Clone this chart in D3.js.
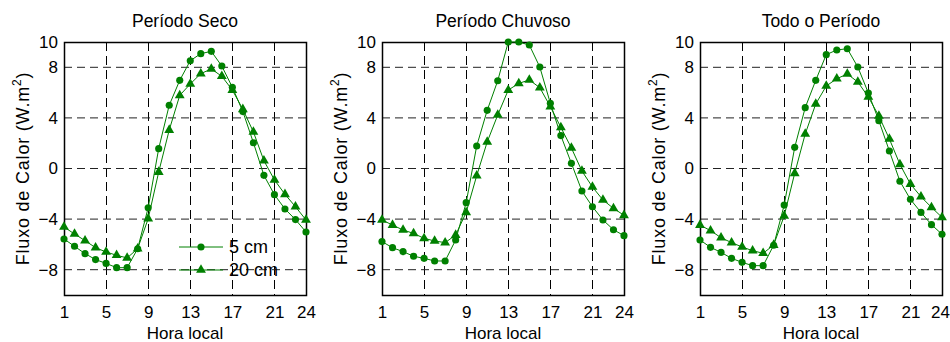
<!DOCTYPE html>
<html>
<head>
<meta charset="utf-8">
<script src="https://cdn.jsdelivr.net/npm/d3@7"></script>
<style>
  body { margin: 0; background: #fff; }
  svg { font-family: "Liberation Sans", Arial, sans-serif; }
</style>
</head>
<body>
<div id="chart"></div>
<script>
// horas do dia
const horas = d3.range(1, 25);

const seco5 = [-5.57, -6.15, -6.73, -7.2, -7.5, -7.84, -7.84, -6.34, -3.1, 1.57, 5.0, 6.97,
  8.52, 9.08, 9.26, 8.1, 6.42, 4.5, 2.04, -0.54, -2.07, -3.2, -4.04, -5.02];
const seco20 = [-4.62, -5.18, -5.7, -6.26, -6.6, -6.86, -7.07, -6.34, -3.97, -0.28, 3.04, 5.78,
  6.68, 7.5, 7.87, 7.29, 6.2, 4.68, 2.89, 0.62, -0.9, -2.04, -3.02, -4.07];
const chuvoso5 = [-5.78, -6.26, -6.57, -6.94, -7.1, -7.31, -7.31, -5.65, -2.7, 1.78, 4.6, 6.94,
  10.0, 10.0, 9.76, 8.02, 5.15, 2.6, 0.41, -1.78, -3.02, -4.07, -4.84, -5.31];
const chuvoso20 = [-4.07, -4.47, -4.86, -5.13, -5.52, -5.73, -5.86, -5.26, -3.47, -0.57, 2.1, 4.23,
  6.2, 6.73, 7.0, 6.39, 4.89, 3.25, 1.62, -0.2, -1.46, -2.49, -3.15, -3.7];
const todo5 = [-5.65, -6.23, -6.63, -7.1, -7.42, -7.68, -7.68, -6.07, -2.89, 1.67, 4.81, 6.97,
  9.0, 9.37, 9.47, 8.02, 5.97, 3.78, 1.38, -1.01, -2.44, -3.47, -4.44, -5.2];
const todo20 = [-4.47, -4.91, -5.47, -5.86, -6.2, -6.5, -6.7, -6.05, -3.75, -0.38, 2.73, 5.1,
  6.52, 7.1, 7.47, 6.84, 5.65, 4.15, 2.33, 0.33, -1.23, -2.23, -3.07, -3.86];

const titulos = ['Período Seco', 'Período Chuvoso', 'Todo o Período'];
const series = [[seco5, seco20], [chuvoso5, chuvoso20], [todo5, todo20]];
const legenda = ['5 cm', '20 cm'];
const xTicks = [1, 5, 9, 13, 17, 21, 24];
const yTicks = [-8, -4, 0, 4, 8, 10];
const yGrid = [-8, -4, 0, 4, 8];
const xGrid = [5, 9, 13, 17, 21];

const W = 950, H = 342;
const verde = '#008000';
const lefts = [64, 382, 700];
const pw = 242, plotTop = 42, plotBottom = 295;
const fonte = '"Liberation Sans", Arial, sans-serif';

const svg = d3.select('#chart').append('svg')
  .attr('width', W)
  .attr('height', H);

const y = d3.scaleLinear().domain([-10, 10]).range([plotBottom, plotTop]);

titulos.forEach((titulo, i) => {
  const x = d3.scaleLinear().domain([1, 24]).range([lefts[i], lefts[i] + pw]);
  const g = svg.append('g');

  // grade tracejada
  g.selectAll('.gx').data(xGrid).enter().append('line')
    .attr('x1', d => Math.round(x(d)) + 0.5).attr('x2', d => Math.round(x(d)) + 0.5)
    .attr('y1', plotTop).attr('y2', plotBottom)
    .attr('stroke', '#000').attr('stroke-dasharray', '9,5');
  g.selectAll('.gy').data(yGrid).enter().append('line')
    .attr('x1', x(1)).attr('x2', x(24))
    .attr('y1', d => y(d)).attr('y2', d => y(d))
    .attr('stroke', '#222').attr('stroke-dasharray', '8,5');

  // caixa
  g.append('rect')
    .attr('x', Math.round(x(1)) + 0.5).attr('y', plotTop + 0.5)
    .attr('width', pw).attr('height', plotBottom - plotTop)
    .attr('fill', 'none').attr('stroke', '#000').attr('stroke-width', 1.5);

  // rótulos dos eixos
  const xl = g.append('g')
    .attr('transform', 'translate(0,' + plotBottom + ')')
    .call(d3.axisBottom(x).tickValues(xTicks).tickSize(0).tickPadding(11).tickFormat(d3.format('d')))
    .call(a => a.select('.domain').remove());
  xl.selectAll('text').attr('font-size', 17).attr('fill', '#000').attr('font-family', fonte);
  // último rótulo do último painel encosta na borda
  if (i === titulos.length - 1) {
    xl.selectAll('text').filter(d => d === 24).attr('dx', -2);
  }

  g.append('g')
    .attr('transform', 'translate(' + x(1) + ',0)')
    .call(d3.axisLeft(y).tickValues(yTicks).tickSize(0).tickPadding(6).tickFormat(d3.format('d')))
    .call(a => a.select('.domain').remove())
    .selectAll('text').attr('font-size', 17).attr('fill', '#000').attr('font-family', fonte);

  g.append('text')
    .attr('x', (x(1) + x(24)) / 2).attr('y', 27)
    .attr('text-anchor', 'middle').attr('font-size', 17.5)
    .text(titulo);

  g.append('text')
    .attr('x', (x(1) + x(24)) / 2).attr('y', 339)
    .attr('text-anchor', 'middle').attr('font-size', 17)
    .text('Hora local');

  const yl = g.append('text')
    .attr('transform', 'translate(' + (x(1) - 35) + ',' + ((plotTop + plotBottom) / 2) + ') rotate(-90)')
    .attr('text-anchor', 'middle').attr('font-size', 18).attr('letter-spacing', 0.8);
  yl.append('tspan').text('Fluxo de Calor (W.m');
  yl.append('tspan').attr('font-size', 12).attr('dy', -8).text('2');
  yl.append('tspan').attr('dy', 8).text(')');

  const line = d3.line().x((d, j) => x(horas[j])).y(d => y(d));

  series[i].forEach((vals, k) => {
    g.append('path')
      .datum(vals)
      .attr('fill', 'none').attr('stroke', verde).attr('stroke-width', 1)
      .attr('d', line);
    const sym = d3.symbol().type(k === 0 ? d3.symbolCircle : d3.symbolTriangle).size(k === 0 ? 40 : 42);
    g.selectAll('.m' + k).data(vals).enter().append('path')
      .attr('transform', (d, j) => 'translate(' + x(horas[j]) + ',' + y(d) + ')')
      .attr('d', sym).attr('fill', verde);
  });
});

// legenda no primeiro painel
const leg = svg.append('g');
legenda.forEach((nome, k) => {
  const ly = 247 + k * 23;
  leg.append('line').attr('x1', 179).attr('x2', 223).attr('y1', ly).attr('y2', ly)
    .attr('stroke', verde).attr('stroke-width', 1);
  leg.append('path')
    .attr('transform', 'translate(201,' + ly + ')')
    .attr('d', d3.symbol().type(k === 0 ? d3.symbolCircle : d3.symbolTriangle).size(k === 0 ? 40 : 42)())
    .attr('fill', verde);
  leg.append('text').attr('x', 229).attr('y', ly + 6).attr('font-size', 18).text(nome);
});
</script>
</body>
</html>
